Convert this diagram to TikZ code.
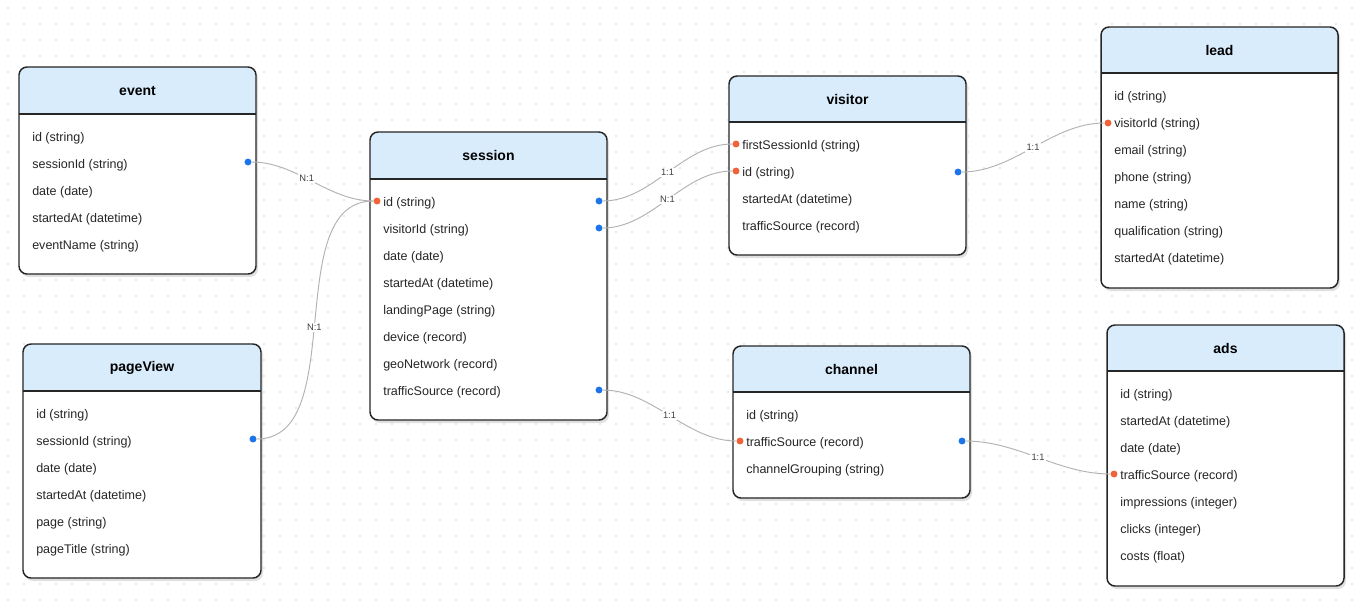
\documentclass[tikz,border=0pt]{standalone}
\usepackage{fontspec}
\setmainfont{Liberation Sans}
\definecolor{headblue}{HTML}{D8ECFC}
\definecolor{pkred}{HTML}{F0623A}
\definecolor{fkblue}{HTML}{1C74EA}
\definecolor{griddot}{HTML}{D4D4D4}
\tikzset{
  box/.style={draw=black!85, line width=1.1pt, rounded corners=6pt},
  row/.style={anchor=west, inner sep=0pt, font=\fontsize{9.4}{11}\selectfont, text=black!85},
  title/.style={font=\bfseries\fontsize{10.5}{12}\selectfont},
  pk/.style={circle, fill=pkred, inner sep=0pt, minimum size=5.2pt},
  fk/.style={circle, fill=fkblue, inner sep=0pt, minimum size=5.2pt},
  rel/.style={draw=black!30, line width=0.7pt, out=0, in=180, looseness=0.9},
  card/.style={font=\fontsize{7}{8}\selectfont, text=black!75, fill=white, inner sep=1pt}
}
% #1 name, #2 title, #3 left, #4 top, #5 right, #6 header bottom, #7 bottom, #8 rows
\newcommand\entity[8]{%
  \fill[black!12, rounded corners=6pt] (#3+2,#4+3) rectangle (#5+2,#7+3);
  \begin{scope}
    \clip[rounded corners=6pt] (#3,#4) rectangle (#5,#7);
    \fill[white] (#3,#4) rectangle (#5,#7);
    \fill[headblue] (#3,#4) rectangle (#5,#6);
  \end{scope}
  \draw[black!85, line width=0.9pt] (#3,#6) -- (#5,#6);
  \draw[box] (#3,#4) rectangle (#5,#7);
  \node[title] (#1) at ({(#3+#5)/2},{(#4+#6)/2}) {#2};
  \foreach \t [count=\i] in {#8}
    \node[row] (#1-\i) at (#3+13,#6+24+27*\i-27) {\t};
}
\begin{document}
\begin{tikzpicture}[x=0.75pt,y=-0.75pt]
  \useasboundingbox (0,0) rectangle (1366,615);
  \fill[white] (0,0) rectangle (1366,615);
  % dotted canvas
  \foreach \x in {8,24,...,1366}
    \foreach \y in {8,24,...,615}
      \fill[griddot] (\x,\y) circle (0.8);

  \entity{event}{event}{19}{67}{256}{114}{274}{id (string),sessionId (string),date (date),startedAt (datetime),eventName (string)}
  \entity{pageview}{pageView}{23}{344}{261}{391}{578}{id (string),sessionId (string),date (date),startedAt (datetime),page (string),pageTitle (string)}
  \entity{session}{session}{370}{132}{607}{179}{420}{id (string),visitorId (string),date (date),startedAt (datetime),landingPage (string),device (record),geoNetwork (record),trafficSource (record)}
  \entity{visitor}{visitor}{729}{76}{966}{122}{255}{firstSessionId (string),id (string),startedAt (datetime),trafficSource (record)}
  \entity{lead}{lead}{1101}{27}{1338}{73}{288}{id (string),visitorId (string),email (string),phone (string),name (string),qualification (string),startedAt (datetime)}
  \entity{channel}{channel}{733}{346}{970}{392}{498}{id (string),trafficSource (record),channelGrouping (string)}
  \entity{ads}{ads}{1107}{325}{1344}{371}{586}{id (string),startedAt (datetime),date (date),trafficSource (record),impressions (integer),clicks (integer),costs (float)}

  % key dots
  \node[fk] (event-fk) at (248,162) {};
  \node[fk] (pageview-fk) at (253,439) {};
  \node[pk] (session-pk) at (377,201) {};
  \node[fk] (session-fk1) at (599,201) {};
  \node[fk] (session-fk2) at (599,228) {};
  \node[fk] (session-fk3) at (599,390) {};
  \node[pk] (visitor-pk1) at (736,144) {};
  \node[pk] (visitor-pk2) at (736,171) {};
  \node[fk] (visitor-fk) at (958,172) {};
  \node[pk] (lead-pk) at (1108,123) {};
  \node[pk] (channel-pk) at (740,441) {};
  \node[fk] (channel-fk) at (962,441) {};
  \node[pk] (ads-pk) at (1114,474) {};

  % relations
  \draw[rel] (event-fk) to node[card, pos=0.45] {N:1} (session-pk);
  \draw[rel] (pageview-fk) to node[card, pos=0.48] {N:1} (session-pk);
  \draw[rel] (session-fk1) to node[card] {1:1} (visitor-pk1);
  \draw[rel] (session-fk2) to node[card] {N:1} (visitor-pk2);
  \draw[rel] (visitor-fk) to node[card] {1:1} (lead-pk);
  \draw[rel] (session-fk3) to node[card] {1:1} (channel-pk);
  \draw[rel] (channel-fk) to node[card] {1:1} (ads-pk);
\end{tikzpicture}
\end{document}
